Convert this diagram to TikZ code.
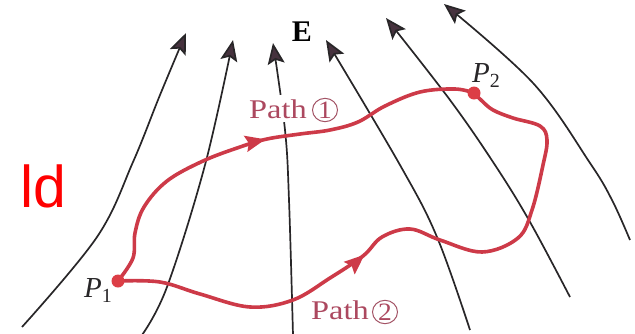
\documentclass[tikz,border=0pt]{standalone}
\usepackage{fontspec}
\setmainfont{Liberation Serif}
\newfontfamily\fldsans{Liberation Sans}
\usetikzlibrary{arrows.meta,decorations.markings,shapes.geometric}
\definecolor{pathred}{RGB}{205,58,72}
\definecolor{dotred}{RGB}{220,62,70}
\definecolor{labred}{RGB}{172,72,95}
\definecolor{fieldgray}{RGB}{40,38,40}
\definecolor{tipgray}{RGB}{70,50,62}
\tikzset{
  fieldline/.style={draw=fieldgray, line width=1.7pt,
    -{Stealth[length=21pt,width=17pt,inset=4pt,fill=tipgray]}},
  redpath/.style={draw=pathred, line width=3.6pt, line cap=round, line join=round},
  redmark/.style={postaction={decorate}, decoration={markings,
    mark=at position #1 with {\arrow{Stealth[length=20pt,width=16pt,inset=3pt,fill=pathred]}}}},
  pathlab/.style={anchor=base west, text=labred, fill=white, inner xsep=1pt, inner ysep=4pt,
    font=\fontsize{27}{27}\selectfont},
  circnum/.style={draw=labred!80!gray, line width=1pt, ellipse, inner sep=0pt,
    minimum width=25pt, minimum height=22pt, text=labred, fill=white,
    font=\fontsize{25}{25}\selectfont},
  ptlab/.style={anchor=base west, inner sep=0pt, text=fieldgray,
    font=\fontsize{29}{29}\selectfont\itshape},
  ptdot/.style={circle, fill=dotred, inner sep=0pt, minimum size=13pt}
}
\begin{document}
\begin{tikzpicture}[x=1pt,y=-1pt]
\useasboundingbox (0,0) rectangle (635,333);
\clip (0,0) rectangle (635,333);
% field lines
\draw[fieldline] plot[smooth, tension=0.6] coordinates {(22,327) (97,237) (133,162) (160,95) (186,33)};
\draw[fieldline] plot[smooth, tension=0.6] coordinates {(142,335) (167,287) (205,165) (233,40)};
\draw[fieldline] plot[smooth, tension=0.6] coordinates {(293,335) (289,200) (285,130) (273,43)};
\draw[fieldline] plot[smooth, tension=0.6] coordinates {(470,330) (437,237) (400,165) (326,40)};
\draw[fieldline] plot[smooth, tension=0.6] coordinates {(570,297) (530,222) (495,165) (450,100) (386,18)};
\draw[fieldline] plot[smooth, tension=0.6] coordinates {(630,240) (612,200) (590,163) (533,83) (444,4)};
% paths
\coordinate (P1) at (118,281);
\coordinate (P2) at (474,93);
\draw[redpath, redmark=0.505] plot[smooth, tension=0.6] coordinates {(118,281) (133,258) (135,233) (144,207) (167,181) (203,161) (240,147) (267,139) (300,134) (330,130) (358,122) (385,106) (420,92) (455,89) (474,93)};
\draw[redpath, redmark=0.42] plot[smooth, tension=0.6] coordinates {(118,281) (160,282) (200,294) (250,307) (293,300) (330,278) (363,256) (382,237) (410,229) (440,240) (482,252) (518,238) (532,210) (543,165) (547,140) (540,126) (513,118) (493,110) (481,100) (474,93)};
% labels
\node[pathlab] (lab1) at (248,118) {\scalebox{1.2}[1]{Path}};
\node[circnum] (c1) at (325,110) {\scalebox{1.1}[1]{1}};
\node[pathlab] (lab2) at (310,319) {\scalebox{1.2}[1]{Path}};
\node[circnum] (c2) at (385,312) {\scalebox{1.1}[1]{2}};
\node[ptdot] (d1) at (P1) {};
\node[ptdot] (d2) at (P2) {};
\node[ptlab] (p1lab) at (84,297) {P\raisebox{-5pt}{\fontsize{20}{20}\selectfont\upshape 1}};
\node[ptlab] (p2lab) at (472,82) {P\raisebox{-5pt}{\fontsize{20}{20}\selectfont\upshape 2}};
\node[anchor=base, inner sep=0pt, font=\fontsize{30}{30}\selectfont\bfseries] (E) at (302,41) {E};
\node[anchor=base west, inner sep=0pt, text=red, font=\fldsans\fontsize{59}{59}\selectfont] (fld) at (20,207) {ld};
\end{tikzpicture}
\end{document}
